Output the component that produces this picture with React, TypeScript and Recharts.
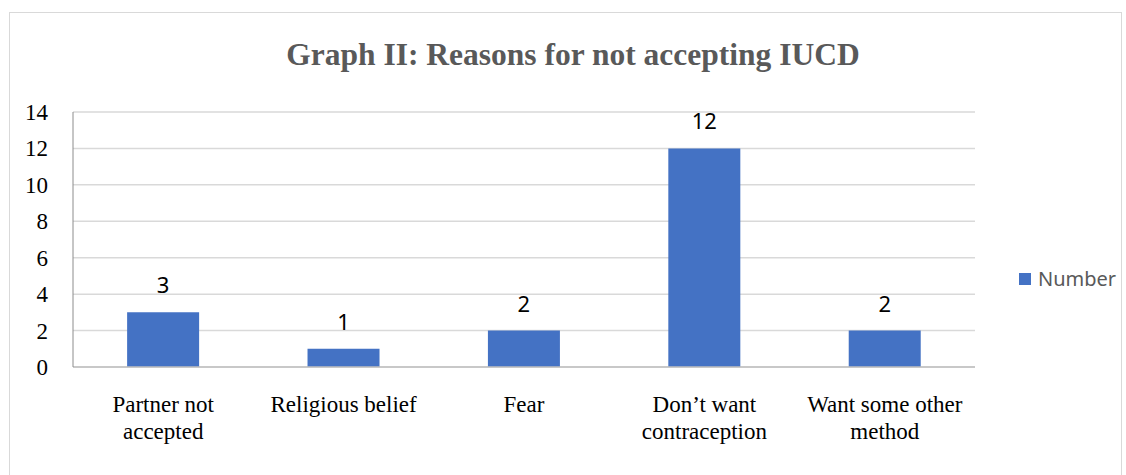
import { Bar, BarChart, CartesianGrid, LabelList, XAxis, YAxis } from "recharts";

// line breaks follow the wrapping in the original chart
const categories = [
  "Partner not\naccepted",
  "Religious belief",
  "Fear",
  "Don\u2019t want\ncontraception",
  "Want some other\nmethod",
];
const numbers = [3, 1, 2, 12, 2];
const yTicks = [0, 2, 4, 6, 8, 10, 12, 14];

const chartTitle = "Graph II: Reasons for not accepting IUCD";
const seriesName = "Number";

const data = categories.map((reason, i) => ({ reason, number: numbers[i] }));

const serif = "'Liberation Serif', 'Times New Roman', serif";
const sans = "'Noto Sans', 'Liberation Sans', sans-serif";

function CategoryTick({ x, y, payload }: any) {
  const lines = String(payload.value).split("\n");
  return (
    <text
      x={x}
      y={y + 45}
      textAnchor="middle"
      style={{ fontFamily: serif, fontSize: 23, fill: "#000" }}
    >
      {lines.map((line, i) => (
        <tspan key={i} x={x} dy={i === 0 ? 0 : 27}>
          {line}
        </tspan>
      ))}
    </text>
  );
}

function ValueTick({ x, y, payload }: any) {
  return (
    <text
      x={x}
      y={y}
      dy={8}
      textAnchor="end"
      style={{ fontFamily: serif, fontSize: 23, fill: "#000" }}
    >
      {payload.value}
    </text>
  );
}

export default function App() {
  return (
    <div style={{ position: "absolute", left: 0, top: 0, width: 1126, height: 475, background: "#fff", overflow: "hidden" }}>
      <div
        style={{
          position: "absolute",
          left: 9,
          top: 12,
          width: 1111,
          height: 480,
          border: "1px solid #d9d9d9",
        }}
      />
      <div
        style={{
          position: "absolute",
          left: 0,
          top: 36,
          width: 1146,
          textAlign: "center",
          fontFamily: serif,
          fontWeight: "bold",
          fontSize: 31.5,
          lineHeight: "37px",
          color: "#595959",
        }}
      >
        {chartTitle}
      </div>
      <BarChart
        width={1126}
        height={475}
        data={data}
        barCategoryGap="30%"
        margin={{ top: 112, right: 151, bottom: 48, left: 9 }}
        style={{ position: "absolute", left: 0, top: 0 }}
      >
        <CartesianGrid vertical={false} stroke="#d9d9d9" strokeWidth={1.5} />
        <XAxis
          dataKey="reason"
          height={60}
          interval={0}
          tickSize={0}
          tickMargin={0}
          tickLine={false}
          axisLine={{ stroke: "#bfbfbf", strokeWidth: 1.5 }}
          tick={<CategoryTick />}
        />
        <YAxis
          width={64}
          domain={[0, 14]}
          ticks={yTicks}
          interval={0}
          tickSize={0}
          tickMargin={25}
          tickLine={false}
          axisLine={{ stroke: "#8c8c8c", strokeWidth: 1 }}
          tick={<ValueTick />}
        />
        <Bar dataKey="number" name={seriesName} fill="#4472c4" isAnimationActive={false}>
          <LabelList
            dataKey="number"
            position="top"
            offset={19}
            style={{ fontFamily: sans, fontSize: 22, fill: "#000" }}
          />
        </Bar>
      </BarChart>
      <div
        style={{
          position: "absolute",
          left: 1019,
          top: 265,
          display: "flex",
          alignItems: "center",
          fontFamily: sans,
          fontSize: 20,
          color: "#595959",
        }}
      >
        <span style={{ display: "inline-block", width: 12, height: 12, background: "#4472c4", marginRight: 7 }} />
        {seriesName}
      </div>
    </div>
  );
}
